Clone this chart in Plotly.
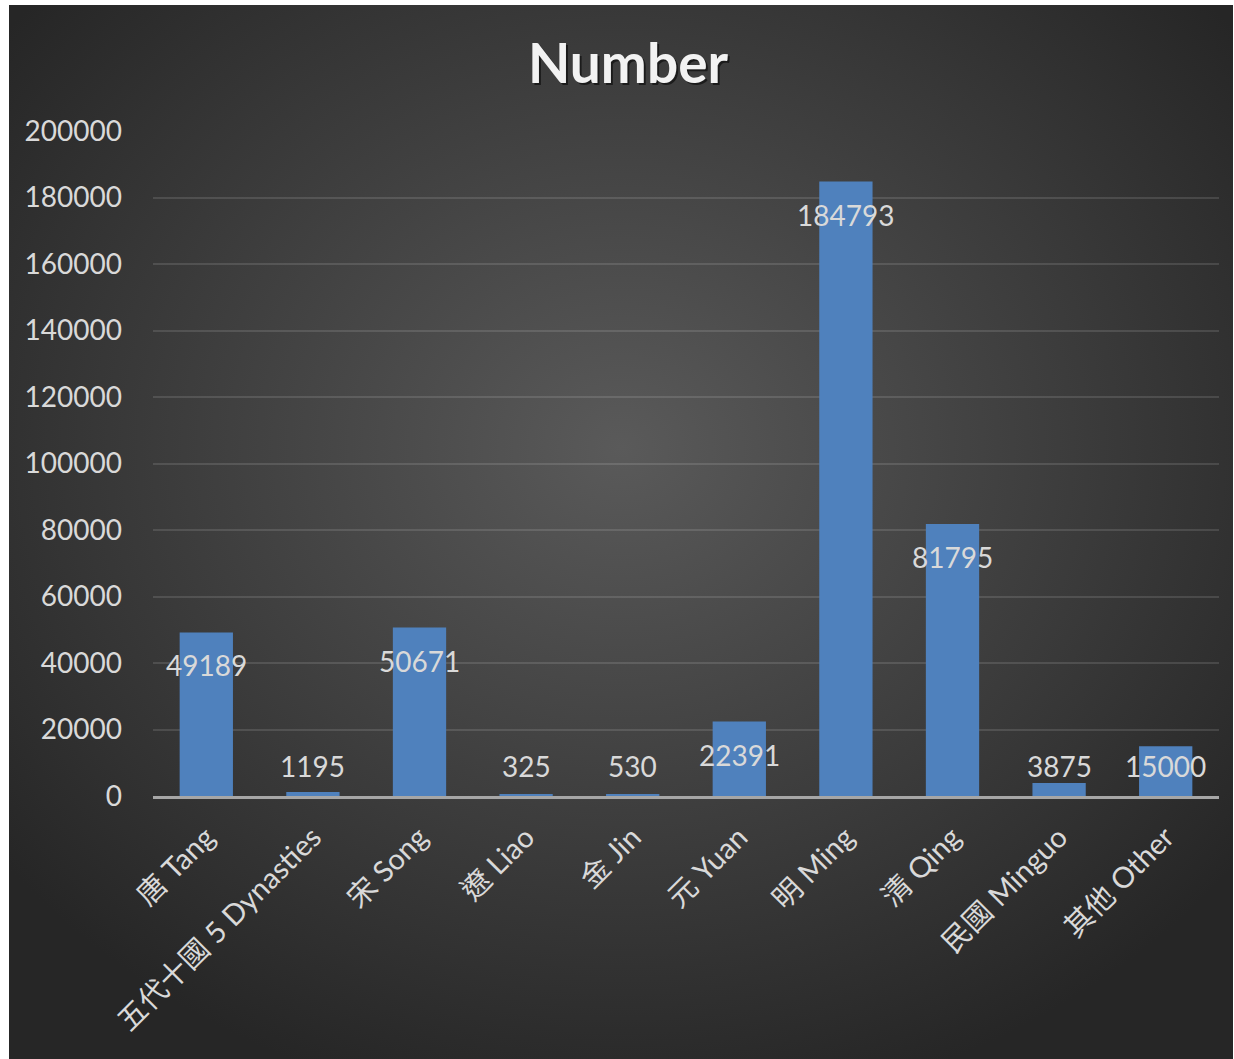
import base64
import plotly.graph_objects as go

categories = ["唐 Tang", "五代十國 5 Dynasties", "宋 Song", "遼 Liao", "金 Jin",
              "元 Yuan", "明 Ming", "清 Qing", "民國 Minguo", "其他 Other"]
values = [49189, 1195, 50671, 325, 530, 22391, 184793, 81795, 3875, 15000]
y_ticks = [0, 20000, 40000, 60000, 80000, 100000, 120000, 140000, 160000, 180000, 200000]
title_text = "Number"

W, H = 1234, 1059
L, T, R = 153, 131, 15
plot_bottom = 796
B = H - plot_bottom
plot_w = W - L - R
plot_h = plot_bottom - T
y_max = 200000

FONT = "Lato, 'Noto Sans CJK TC', 'Noto Sans CJK SC', sans-serif"
TXT = "#d9d9d9"

svg = """<svg xmlns='http://www.w3.org/2000/svg' width='1224' height='1054' preserveAspectRatio='none' viewBox='0 0 1 1'>
<defs><radialGradient id='g' cx='0.5' cy='0.42' r='0.64'>
<stop offset='0' stop-color='#5a5a5a'/><stop offset='1' stop-color='#262626'/>
</radialGradient></defs><rect x='0' y='0' width='1' height='1' fill='url(#g)'/></svg>"""
src = "data:image/svg+xml;base64," + base64.b64encode(svg.encode()).decode()

fig = go.Figure()
fig.add_trace(go.Bar(x=categories, y=values, marker=dict(color="#4f81bd", line=dict(width=0)),
                     width=0.5, hoverinfo="x+y"))

# data labels (inside end, clamped near axis for short bars)
px_per_unit = plot_h / y_max
annotations = []
for c, v in zip(categories, values):
    if v * px_per_unit >= 63:
        annotations.append(dict(x=c, y=v, yshift=-33, text=str(v), showarrow=False,
                                xref="x", yref="y", yanchor="middle",
                                font=dict(family=FONT, size=28, color=TXT)))
    else:
        annotations.append(dict(x=c, y=0, yshift=30, text=str(v), showarrow=False,
                                xref="x", yref="y", yanchor="middle",
                                font=dict(family=FONT, size=28, color=TXT)))

# title with shadow
for dx, col in [(2, "rgba(0,0,0,0.55)"), (0, "#f2f2f2")]:
    annotations.append(dict(x=(628 - L) / plot_w, y=(plot_bottom - 62) / plot_h,
                            xref="paper", yref="paper",
                            xshift=dx, yshift=-dx, text="<b>%s</b>" % title_text, showarrow=False,
                            xanchor="center", yanchor="middle",
                            font=dict(family="Lato, sans-serif", size=55, color=col)))

dark_x0, dark_y0, dark_x1, dark_y1 = 9, 5, 1233, 1059
fig.update_layout(
    width=W, height=H,
    margin=dict(l=L, r=R, t=T, b=B, autoexpand=False),
    paper_bgcolor="white",
    plot_bgcolor="rgba(0,0,0,0)",
    showlegend=False,
    bargap=0.5,
    annotations=annotations,
    images=[dict(source=src, xref="paper", yref="paper",
                 x=(dark_x0 - L) / plot_w, y=(plot_bottom - dark_y0) / plot_h,
                 sizex=(dark_x1 - dark_x0) / plot_w, sizey=(dark_y1 - dark_y0) / plot_h,
                 xanchor="left", yanchor="top", sizing="stretch", layer="below")],
    xaxis=dict(tickangle=-45, tickfont=dict(family=FONT, size=29, color=TXT),
               showline=True, linecolor="#a6a6a6", linewidth=2.5, ticks="",
               showgrid=False, zeroline=False, ticklabelstandoff=10),
    yaxis=dict(range=[0, y_max], tickvals=y_ticks, ticktext=[str(t) for t in y_ticks],
               tickfont=dict(family=FONT, size=28, color=TXT),
               showgrid=True, gridcolor="rgba(255,255,255,0.12)", gridwidth=2,
               zeroline=False, showline=False, ticks="", ticklabelstandoff=30),
)

fig.write_html("out.html", config={"displayModeBar": False},
               post_script="document.body.style.margin='0';document.body.style.overflow='hidden';")
